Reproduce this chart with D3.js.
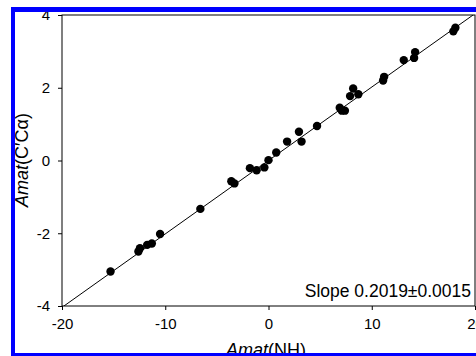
<!DOCTYPE html>
<html><head><meta charset="utf-8">
<script src="https://cdn.jsdelivr.net/npm/d3@7"></script>
<style>
body{margin:0;background:#fff}
svg{display:block}
text{font-family:"Liberation Sans",Arial,Helvetica,sans-serif;fill:#000}
</style>
</head><body>
<svg id="c" width="476" height="356"></svg>
<script>
// Data
const amatNH  = [-15.3, -12.6, -12.45, -11.75, -11.3, -10.5, -6.6, -3.6, -3.3, -1.8, -1.15, -0.4, 0.0, 0.75, 1.8, 2.95, 3.2, 4.7, 6.9, 7.1, 7.4, 7.9, 8.2, 8.7, 11.1, 11.2, 13.1, 14.1, 14.2, 17.9, 18.1];
const amatCCa = [-3.05, -2.5, -2.41, -2.32, -2.28, -2.02, -1.33, -0.57, -0.63, -0.21, -0.27, -0.19, 0.01, 0.22, 0.52, 0.79, 0.52, 0.95, 1.45, 1.37, 1.37, 1.77, 1.98, 1.82, 2.2, 2.3, 2.76, 2.82, 2.98, 3.55, 3.65];
const xTicks = [-20, -10, 0, 10, 20];
const yTicks = [-4, -2, 0, 2, 4];
const fitSlope = 0.2019;
const fitRange = [-20, 20];
const slopeLabel = "Slope 0.2019\u00B10.0015";

const svg = d3.select("#c");
const L = 62, T = 15, R = 475, B = 306;
const x = d3.scaleLinear().domain([-20, 20]).range([L, R]);
const y = d3.scaleLinear().domain([-4, 4]).range([B, T]);

svg.append("defs").append("clipPath").attr("id", "pc")
  .append("rect").attr("x", L).attr("y", T).attr("width", R - L).attr("height", B - T);

// fit line
svg.append("line")
  .attr("clip-path", "url(#pc)")
  .attr("x1", x(fitRange[0])).attr("y1", y(fitSlope * fitRange[0]))
  .attr("x2", x(fitRange[1])).attr("y2", y(fitSlope * fitRange[1]))
  .attr("stroke", "#000").attr("stroke-width", 1);

// points
svg.append("g").selectAll("circle").data(amatNH.map((v, i) => [v, amatCCa[i]]))
  .join("circle")
  .attr("cx", d => x(d[0])).attr("cy", d => y(d[1]))
  .attr("r", 4.2).attr("fill", "#000");

// frame
svg.append("rect").attr("x", L).attr("y", T).attr("width", R - L).attr("height", B - T)
  .attr("fill", "none").attr("stroke", "#000").attr("stroke-width", 1);

// axes
const xa = svg.append("g").attr("transform", `translate(0,${B})`)
  .call(d3.axisBottom(x).tickValues(xTicks).tickSize(4).tickSizeOuter(0).tickPadding(8));
const ya = svg.append("g").attr("transform", `translate(${L},0)`)
  .call(d3.axisLeft(y).tickValues(yTicks).tickSize(4).tickSizeOuter(0).tickPadding(8));
[xa, ya].forEach(g => {
  g.select(".domain").remove();
  g.selectAll("text").attr("font-size", 15).attr("font-family", '"Liberation Sans",Arial,sans-serif').attr("fill", "#000");
  g.selectAll("line").attr("stroke", "#000");
});
xa.selectAll("text").text(d => d3.format("")(d).replace("\u2212", "-"));
ya.selectAll("text").text(d => String(d));

// slope annotation
svg.append("text").attr("x", 471).attr("y", 297).attr("text-anchor", "end")
  .attr("font-size", 17.5).text(slopeLabel);

// axis titles
const xt = svg.append("text").attr("x", 266).attr("y", 356).attr("text-anchor", "middle").attr("font-size", 18);
xt.append("tspan").attr("font-style", "italic").text("Amat");
xt.append("tspan").text("(NH)");

const yt = svg.append("text").attr("transform", "translate(28,160) rotate(-90)")
  .attr("text-anchor", "middle").attr("font-size", 18);
yt.append("tspan").attr("font-style", "italic").text("Amat");
yt.append("tspan").text("(C\u2032C\u03B1)");

// blue border
const blue = "#0000ff";
svg.append("rect").attr("x", 11).attr("y", 7).attr("width", 4).attr("height", 349).attr("fill", blue);
svg.append("rect").attr("x", 11).attr("y", 7).attr("width", 465).attr("height", 5).attr("fill", blue);
svg.append("rect").attr("x", 11).attr("y", 353).attr("width", 465).attr("height", 3).attr("fill", blue);
</script>
</body></html>
